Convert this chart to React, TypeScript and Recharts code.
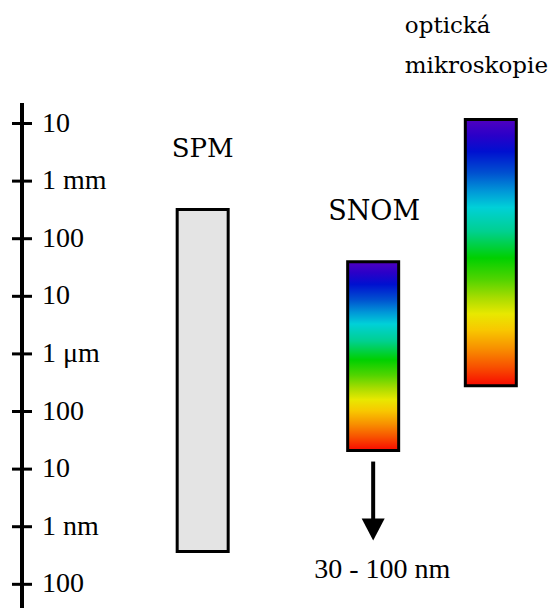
import React from 'react';
import { ComposedChart, Bar, XAxis, YAxis, Cell, LabelList } from 'recharts';

// ---- data ----
const methods = ['SPM', 'SNOM', 'optická mikroskopie'];
const methodPos = [1, 2, 2.69];
const rangeLow = [3.7e-10, 2.1e-8, 2.8e-7]; // metres
const rangeHigh = [3.2e-4, 4.0e-5, 1.17e-2]; // metres
const tickValues = [1e-2, 1e-3, 1e-4, 1e-5, 1e-6, 1e-7, 1e-8, 1e-9, 1e-10];
const tickLabels = ['10', '1 mm', '100', '10', '1 μm', '100', '10', '1 nm', '100'];
const snomNote = '30 - 100 nm';

const data = methods.map((name, i) => ({
  name,
  pos: methodPos[i],
  range: [rangeLow[i], rangeHigh[i]],
}));

// ---- styles ----
const rainbowStops: [number, string][] = [
  [0, '#5000c0'], [0.06, '#2a00c8'], [0.12, '#0010d0'], [0.2, '#0050d0'],
  [0.27, '#0098d8'], [0.33, '#00d0d8'], [0.42, '#00d090'], [0.52, '#00d000'],
  [0.6, '#50d400'], [0.67, '#a8dc00'], [0.73, '#e8e800'], [0.79, '#f8c800'],
  [0.86, '#f89000'], [0.93, '#f85000'], [1, '#f80800'],
];
const serifStyle = { fontFamily: '"Liberation Serif", "Times New Roman", Times, serif' };
const labelStyle = { fontFamily: '"DejaVu Serif", "Liberation Serif", serif' };

function AxisTick(props: any) {
  const { x, y, payload } = props;
  const idx = tickValues.findIndex((v) => Math.abs(Math.log10(v) - Math.log10(payload.value)) < 1e-6);
  return (
    <g>
      <line x1={x - 10} x2={x + 10} y1={y} y2={y} stroke="#000" strokeWidth={3} />
      <text x={x + 20} y={y + 8} style={serifStyle} fontSize={28} fill="#000">
        {idx >= 0 ? tickLabels[idx] : ''}
      </text>
    </g>
  );
}

function MethodLabel(props: any) {
  const { x, y, width, height, value } = props;
  const top = Math.min(y, y + height);
  const bottom = Math.max(y, y + height);
  const cx = x + width / 2;
  if (value === methods[0]) {
    return (
      <text x={cx} y={top - 53} textAnchor="middle" style={labelStyle} fontSize={26} fill="#000">
        {value}
      </text>
    );
  }
  if (value === methods[1]) {
    return (
      <g>
        <text x={cx + 1} y={top - 41.5} textAnchor="middle" style={labelStyle} fontSize={27} fill="#000">
          {value}
        </text>
        <line x1={cx} x2={cx} y1={bottom + 11} y2={bottom + 70} stroke="#000" strokeWidth={4} />
        <path
          d={`M ${cx - 11.5} ${bottom + 68} L ${cx + 11.5} ${bottom + 68} L ${cx} ${bottom + 90} Z`}
          fill="#000"
        />
        <text x={cx - 59} y={bottom + 127} style={serifStyle} fontSize={28} fill="#000">
          {snomNote}
        </text>
      </g>
    );
  }
  const words = String(value).split(' ');
  return (
    <g>
      <text x={cx - 86} y={top - 86.5} style={labelStyle} fontSize={23} fill="#000">
        {words[0]}
      </text>
      <text x={cx - 86} y={top - 46.5} style={labelStyle} fontSize={23} fill="#000">
        {words[1]}
      </text>
    </g>
  );
}

export default function App() {
  return (
    <div style={{ position: 'absolute', left: 0, top: 0, width: 552, height: 608, background: '#fff' }}>
      <ComposedChart width={552} height={608} data={data} margin={{ top: 103, right: 0, bottom: 0, left: 0 }}>
        <defs>
          <linearGradient id="rainbow" x1="0" y1="0" x2="0" y2="1">
            {rainbowStops.map(([o, c], i) => (
              <stop key={i} offset={`${o * 100}%`} stopColor={c} />
            ))}
          </linearGradient>
        </defs>
        <XAxis type="number" dataKey="pos" domain={[-0.0616, 3.047]} allowDataOverflow hide />
        <YAxis
          type="number"
          scale="log"
          domain={[3.88e-11, 0.0227]}
          allowDataOverflow
          ticks={tickValues}
          interval={0}
          width={22}
          tickSize={0}
          tickMargin={0}
          tickLine={false}
          axisLine={{ stroke: '#000', strokeWidth: 4 }}
          tick={<AxisTick />}
        />
        <Bar dataKey="range" barSize={51} stroke="#000" strokeWidth={3} isAnimationActive={false}>
          {data.map((d, i) => (
            <Cell key={d.name} fill={i === 0 ? '#e4e4e4' : 'url(#rainbow)'} />
          ))}
          <LabelList dataKey="name" content={<MethodLabel />} />
        </Bar>
      </ComposedChart>
    </div>
  );
}
